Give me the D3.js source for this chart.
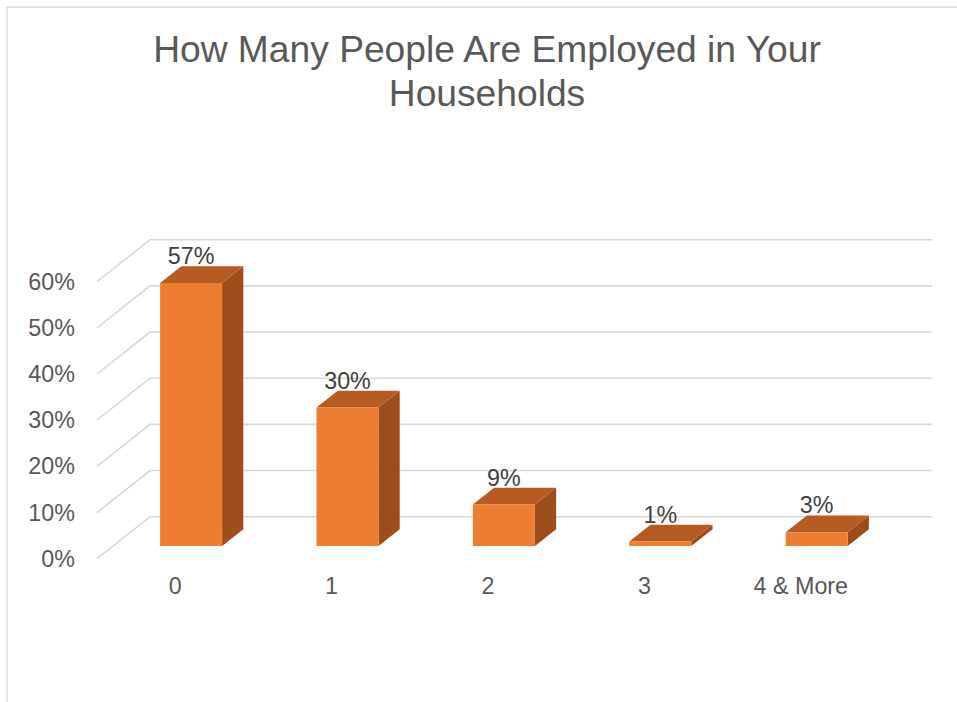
<!DOCTYPE html>
<html>
<head>
<meta charset="utf-8">
<script src="https://cdn.jsdelivr.net/npm/d3@7"></script>
<style>
  html, body { margin: 0; padding: 0; background: #fff; }
  svg { display: block; font-family: "Liberation Sans", Arial, sans-serif; }
</style>
</head>
<body>
<svg id="chart" width="957" height="702"></svg>
<script>
// ---- data ----
const titleLines = ["How Many People Are Employed in Your", "Households"];
const categories = ["0", "1", "2", "3", "4 & More"];
const values = [57, 30, 9, 1, 3];           // percent
const yTicks = [0, 10, 20, 30, 40, 50, 60];

// ---- layout ----
const W = 957, H = 702;
const frontLeft = 97, frontRight = 879;   // front plane horizontal extent
const backFloor = 516.7;                  // y of 0% on back wall
const depthDX = 53, depthDY = -42;        // projection of full depth (front -> back)
const barF0 = 0.3, barF1 = 0.7;           // bar depth extent (fraction of depth)
const barHalfW = 31;

const svg = d3.select("#chart");

// chart border
svg.append("rect")
  .attr("x", 7).attr("y", 7)
  .attr("width", W + 20).attr("height", H + 20)
  .attr("fill", "none").attr("stroke", "#d9d9d9").attr("stroke-width", 1.5);

// title
svg.append("text")
  .attr("x", 487).attr("y", 62)
  .attr("text-anchor", "middle")
  .attr("font-size", "37.2px").attr("fill", "#595959")
  .selectAll("tspan").data(titleLines).join("tspan")
  .attr("x", 487).attr("dy", (d, i) => i === 0 ? 0 : 44)
  .text(d => d);

// scales
const h = d3.scaleLinear().domain([0, 60]).range([0, 277]);
const x = d3.scaleBand().domain(categories).range([frontLeft, frontRight]);
const frontFloor = backFloor - depthDY;   // y of 0% at front plane

// project a point: front-plane x, value v, depth fraction f
function P(px, v, f) {
  return [px + depthDX * f, frontFloor + depthDY * f - h(v)];
}

// gridlines: back wall + left side wall
const grid = svg.append("g").attr("stroke", "#d9d9d9").attr("stroke-width", 1.6).attr("fill", "none");
yTicks.forEach(t => {
  const a = P(frontLeft, t, 0), b = P(frontLeft, t, 1), c = P(frontRight, t, 1);
  grid.append("path").attr("d", d3.line()([a, b, c]));
});

// y tick labels
svg.append("g").selectAll("text").data(yTicks).join("text")
  .attr("x", 75)
  .attr("y", d => P(frontLeft, d, 0)[1] + 8)
  .attr("text-anchor", "end")
  .attr("font-size", "23.3px").attr("fill", "#595959")
  .text(d => d + "%");

// bars
const bars = svg.append("g");
categories.forEach((c, i) => {
  const v = values[i];
  const cx = x(c) + x.bandwidth() / 2;
  const L = cx - barHalfW, R = cx + barHalfW;
  const fBL = P(L, 0, barF0), fBR = P(R, 0, barF0), fTL = P(L, v, barF0), fTR = P(R, v, barF0);
  const bBR = P(R, 0, barF1), bTL = P(L, v, barF1), bTR = P(R, v, barF1);
  const line = d3.line();
  // side face
  bars.append("path").attr("d", line([fBR, bBR, bTR, fTR]) + "Z").attr("fill", "#9D4C1B");
  // top face
  bars.append("path").attr("d", line([fTL, fTR, bTR, bTL]) + "Z").attr("fill", "#B65B22");
  // front face
  bars.append("path").attr("d", line([fBL, fBR, fTR, fTL]) + "Z").attr("fill", "#ED7D31");
  // data label
  const fc = P(cx, v, barF0);
  svg.append("text")
    .attr("x", fc[0]).attr("y", bTL[1] - 2)
    .attr("text-anchor", "middle")
    .attr("font-size", "23.3px").attr("fill", "#404040")
    .text(v + "%");
});

// category labels
svg.append("g").selectAll("text").data(categories).join("text")
  .attr("x", d => x(d) + x.bandwidth() / 2)
  .attr("y", 594)
  .attr("text-anchor", "middle")
  .attr("font-size", "23.3px").attr("fill", "#595959")
  .text(d => d);
</script>
</body>
</html>
